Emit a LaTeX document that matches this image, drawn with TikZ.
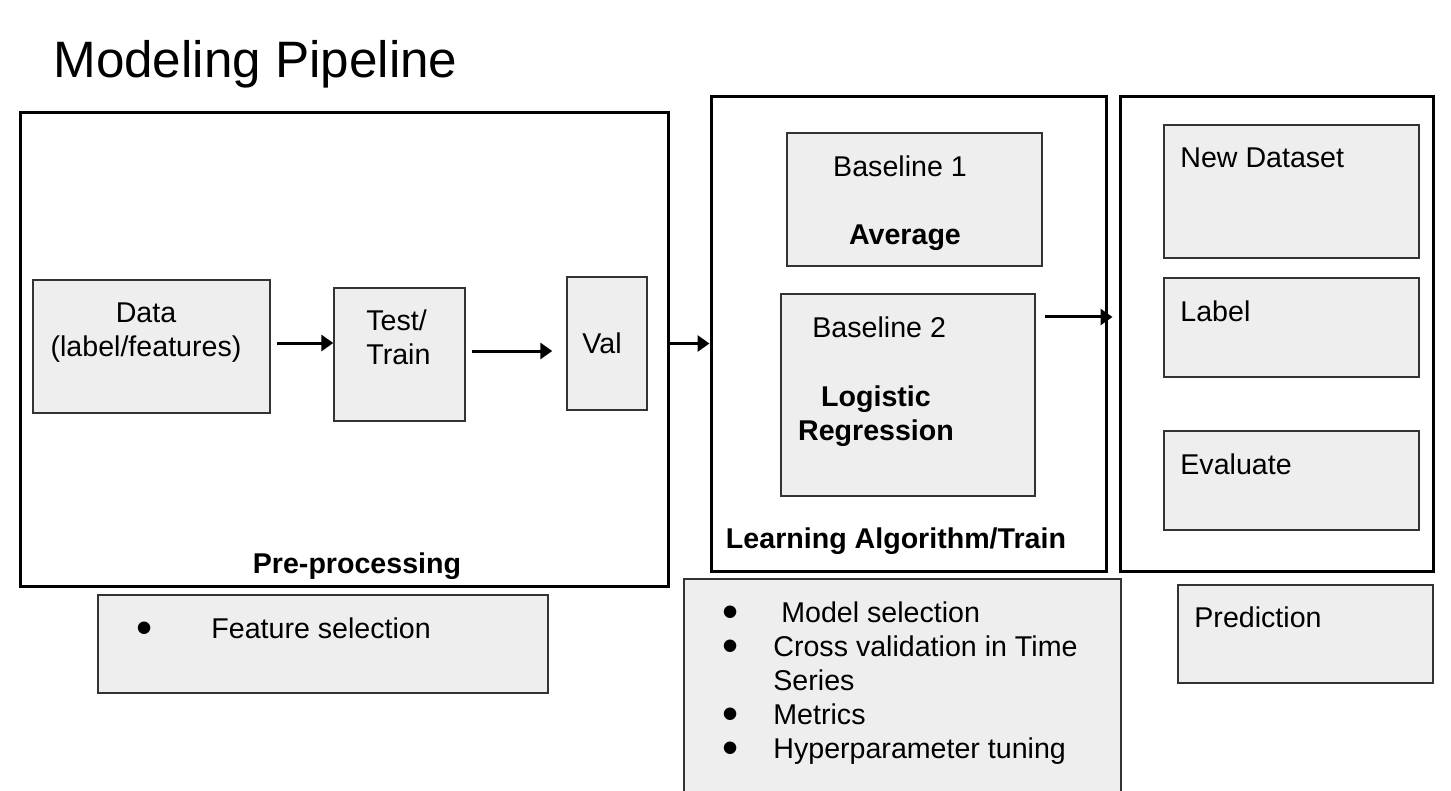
\documentclass[tikz,border=0pt]{standalone}
\usepackage{fontspec}
\setmainfont{Liberation Sans}
\usetikzlibrary{arrows.meta,positioning,fit}
\definecolor{boxfill}{HTML}{EEEEEE}
\definecolor{boxline}{HTML}{333333}
\newcommand\bodyfont{\fontsize{14.3}{17}\selectfont}
\newcommand\itembul[1]{\makebox[#1][l]{\smash{\raisebox{-2.6pt}{\fontsize{23}{17}\selectfont\textbullet}}}}
\tikzset{
  frame/.style={draw=black,line width=1.5pt,inner sep=0pt},
  box/.style={draw=boxline,line width=0.7pt,fill=boxfill,inner sep=0pt},
  txt/.style={inner sep=0pt,font=\bodyfont},
  btxt/.style={txt,font=\bodyfont\bfseries},
  ar/.style={-{Triangle[length=6pt,width=8pt]},line width=1.5pt},
}
\begin{document}
\begin{tikzpicture}[x=0.5pt,y=-0.5pt]
\useasboundingbox (0,0) rectangle (1451,791);
\node[inner sep=0pt,anchor=north west,font=\fontsize{25.6}{30}\selectfont] (title) at (53,40) {Modeling Pipeline};
% pre-processing
\node[frame,fit={(20,113) (668,586)}] (pre) {};
\node[box,fit={(33,280) (270,413)}] (data) {};
\node[box,fit={(334,288) (465,421)}] (split) {};
\node[box,fit={(567,277) (647,410)}] (val) {};
\node[txt,anchor=north,align=center] (tdata) at (146,302) {Data\\(label/features)};
\node[txt,anchor=north west,align=left] (tsplit) at (366,309) {Test/\\Train};
\node[txt,anchor=north west] (tval) at (582,332) {Val};
\node[btxt,anchor=north] (tpre) at (357,552) {Pre-processing};
\draw[ar] ([xshift=3pt,yshift=1.75pt]data.east) -- ([yshift=1.75pt]data.east -| split.west);
\draw[ar] ([xshift=3pt,yshift=1.75pt]split.east) -- ([xshift=-7pt,yshift=1.75pt]split.east -| val.west);
% learning
\node[frame,fit={(711,97) (1106,571)}] (learn) {};
\node[box,fit={(787,133) (1042,266)}] (base1) {};
\node[box,fit={(781,294) (1035,496)}] (base2) {};
\node[txt,anchor=north] (tb1) at (900,155) {Baseline 1};
\node[btxt,anchor=north] (tavg) at (905,224) {Average};
\node[txt,anchor=north west] (tb2) at (812,316) {Baseline 2};
\node[btxt,anchor=north,align=center] (tlog) at (876,385) {Logistic\\Regression};
\node[btxt,anchor=north] (tlearn) at (896,527) {Learning Algorithm/Train};
\draw[ar] (val.east -| pre.east) -- (val.east -| learn.west);
% prediction
\node[frame,fit={(1120,97) (1433,571)}] (out) {};
\node[box,fit={(1164,125) (1419,258)}] (newdata) {};
\node[box,fit={(1164,278) (1419,377)}] (label) {};
\node[box,fit={(1164,431) (1419,530)}] (eval) {};
\node[txt,anchor=north west] (tnew) at (1180,147) {New Dataset};
\node[txt,anchor=north west] (tlabel) at (1180,300) {Label};
\node[txt,anchor=north west] (teval) at (1180,453) {Evaluate};
\coordinate (b2out) at (1045,317);
\draw[ar] (b2out) -- ([xshift=-3pt]b2out -| out.west);
% notes
\node[box,fit={(98,595) (548,693)}] (featbox) {};
\node[txt,anchor=north west] (tfeat) at (136,617) {\itembul{37.5pt}Feature selection};
\node[box,fit={(684,579) (1121,800)}] (modbox) {};
\node[txt,anchor=north west,align=left] (tmod) at (722,601)
  {\itembul{25.5pt}\ Model selection\\
   \itembul{25.5pt}Cross validation in Time\\
   \hspace*{25.5pt}Series\\
   \itembul{25.5pt}Metrics\\
   \itembul{25.5pt}Hyperparameter tuning};
\node[box,fit={(1178,585) (1433,683)}] (predbox) {};
\node[txt,anchor=north west] (tpred) at (1194,606) {Prediction};
\end{tikzpicture}
\end{document}
